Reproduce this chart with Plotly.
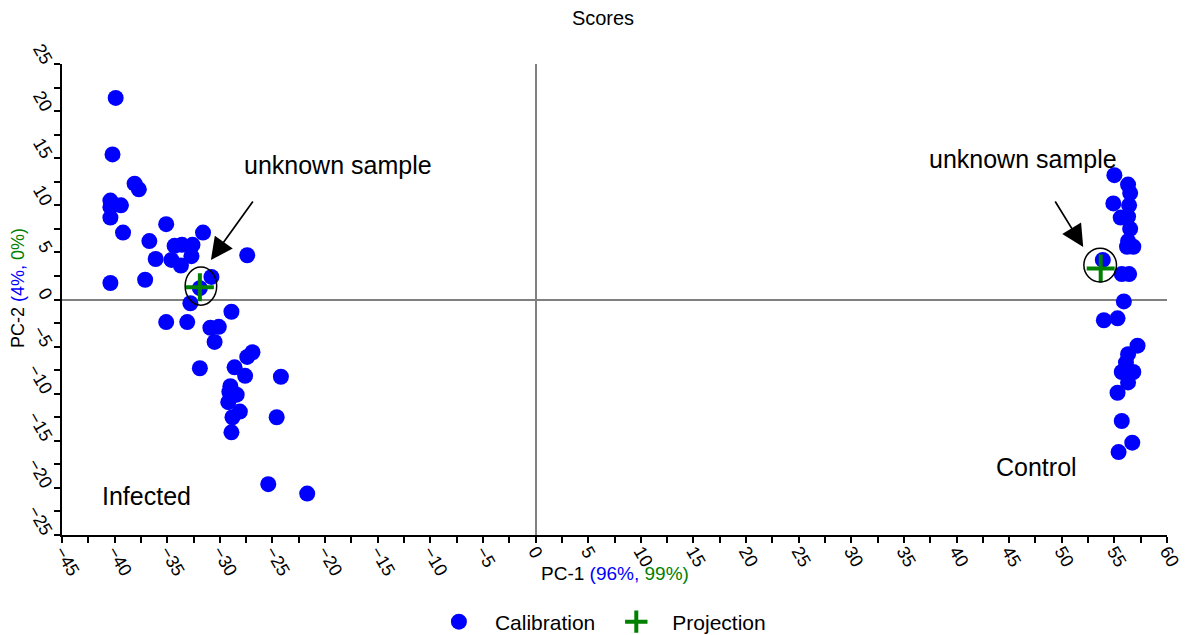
import plotly.graph_objects as go

# PCA scores: calibration samples (infected cluster on the left, control on the right)
calib_pc1 = [
    -39.9, -40.2, -38.1, -37.7, -40.4, -40.4, -39.4, -40.4, -39.2, -36.7,
    -35.1, -36.1, -34.6, -33.7, -34.3, -33.6, -32.6, -32.7, -31.6, -27.4,
    -30.8, -31.9, -40.4, -37.1, -32.8, -28.9, -35.1, -33.1, -30.9, -30.1,
    -30.5, -26.9, -27.4, -31.9, -28.6, -27.6, -24.2, -29.0, -29.1, -28.4,
    -29.2, -28.1, -28.8, -24.6, -28.9, -25.4, -21.7,
    55.0, 56.3, 56.5, 54.9, 56.4, 55.6, 56.3, 56.5, 56.3, 56.8,
    56.2, 53.9, 55.7, 56.4, 55.9, 54.0, 55.3, 57.2, 56.3, 56.1,
    55.7, 56.8, 56.3, 55.3, 55.7, 56.7, 55.4,
]
calib_pc2 = [
    21.4, 15.4, 12.3, 11.7, 10.5, 9.8, 10.0, 8.7, 7.1, 6.2,
    8.0, 4.3, 4.2, 3.6, 5.7, 5.8, 5.8, 4.6, 7.1, 4.7,
    2.4, 1.2, 1.75, 2.1, -0.4, -1.3, -2.4, -2.4, -3.0, -2.9,
    -4.5, -5.6, -6.1, -7.3, -7.2, -8.1, -8.2, -9.2, -9.8, -10.1,
    -10.9, -11.9, -12.5, -12.5, -14.1, -19.6, -20.6,
    13.2, 12.2, 11.3, 10.2, 10.0, 8.7, 8.8, 7.5, 6.2, 5.6,
    5.6, 4.2, 2.7, 2.7, -0.2, -2.2, -2.0, -4.9, -5.8, -6.7,
    -7.7, -7.7, -8.8, -9.9, -12.9, -15.2, -16.2,
]

# Projected unknown samples
proj_pc1 = [-31.9, 53.7]
proj_pc2 = [1.3, 3.3]

x_ticks = list(range(-45, 61, 5))
y_ticks = list(range(-25, 26, 5))

BLUE = "#0000ff"
GREEN = "#008000"
FONT = "Liberation Sans, Arial, sans-serif"

fig = go.Figure()

fig.add_trace(go.Scatter(
    x=calib_pc1, y=calib_pc2, mode="markers", name="Calibration",
    marker=dict(symbol="circle", size=16, color=BLUE, line=dict(width=0)),
))
fig.add_trace(go.Scatter(
    x=proj_pc1, y=proj_pc2, mode="markers", name="Projection",
    marker=dict(symbol="cross-thin", size=20, color=GREEN,
                line=dict(width=4, color=GREEN)),
))

# Circles around the projected samples
fig.add_shape(type="circle", xref="x", yref="y",
              x0=-33.3, x1=-30.3, y0=-0.6, y1=3.45,
              line=dict(color="black", width=1.5))
fig.add_shape(type="circle", xref="x", yref="y",
              x0=52.1, x1=55.2, y0=1.85, y1=5.45,
              line=dict(color="black", width=1.5))

annotations = [
    dict(x=-30.85, y=4.19, ax=-26.76, ay=10.56, xref="x", yref="y",
         axref="x", ayref="y", showarrow=True, arrowhead=2, arrowsize=2.6,
         arrowwidth=1.7, arrowcolor="black", text=""),
    dict(x=52.04, y=5.57, ax=49.29, ay=10.56, xref="x", yref="y",
         axref="x", ayref="y", showarrow=True, arrowhead=2, arrowsize=2.6,
         arrowwidth=1.7, arrowcolor="black", text=""),
    dict(x=-18.78, y=14.28, xref="x", yref="y", text="unknown sample",
         showarrow=False, font=dict(size=25, color="black")),
    dict(x=46.34, y=14.9, xref="x", yref="y", text="unknown sample",
         showarrow=False, font=dict(size=25, color="black")),
    dict(x=-37.0, y=-20.9, xref="x", yref="y", text="Infected",
         showarrow=False, font=dict(size=25, color="black")),
    dict(x=47.58, y=-17.8, xref="x", yref="y", text="Control",
         showarrow=False, font=dict(size=25, color="black")),
    dict(x=0.5, y=-(573 - 535) / 471, xref="paper", yref="paper",
         yanchor="middle",
         text=("PC-1 <span style='color:#0000ff'>(96%,</span>"
               "<span style='color:#008000'> 99%)</span>"),
         showarrow=False, font=dict(size=19, color="black")),
    dict(x=-(62 - 18) / 1105, y=(535 - 288) / 471, xref="paper", yref="paper",
         textangle=-90, xanchor="center", yanchor="middle",
         text=("PC-2 <span style='color:#0000ff'>(4%,</span>"
               "<span style='color:#008000'> 0%)</span>"),
         showarrow=False, font=dict(size=18, color="black")),
]

axis_common = dict(
    automargin=False,
    showgrid=False, zeroline=True, zerolinecolor="#808080", zerolinewidth=1.5,
    showline=True, linecolor="black", linewidth=2,
    ticks="outside", ticklen=6, tickwidth=1.5, tickcolor="black",
    minor=dict(ticks="outside", ticklen=6, tickwidth=1.5, tickcolor="black",
               dtick=2.5, showgrid=False),
    tickfont=dict(size=18, color="black"),
    tickangle=60,
)

fig.update_layout(
    template="none",
    width=1195, height=635,
    margin=dict(l=62, r=28, t=64, b=100, autoexpand=False),
    paper_bgcolor="white", plot_bgcolor="white",
    font=dict(family=FONT, color="black"),
    title=dict(text="Scores", x=603 / 1195, xref="container", xanchor="center",
               y=1 - 18 / 635, yref="container", yanchor="middle",
               font=dict(size=20, color="black")),
    xaxis=dict(range=[-45, 60], tickvals=x_ticks, ticklabelstandoff=-9,
               **axis_common),
    yaxis=dict(range=[-25, 25], tickvals=y_ticks, **axis_common),
    showlegend=True,
    legend=dict(orientation="h", x=0.4995, xanchor="center", xref="container",
                y=1 - 622 / 635, yanchor="middle", yref="container",
                font=dict(size=21, color="black"), itemwidth=62,
                bgcolor="rgba(0,0,0,0)"),
    annotations=annotations,
)

fig.write_html("out.html")
